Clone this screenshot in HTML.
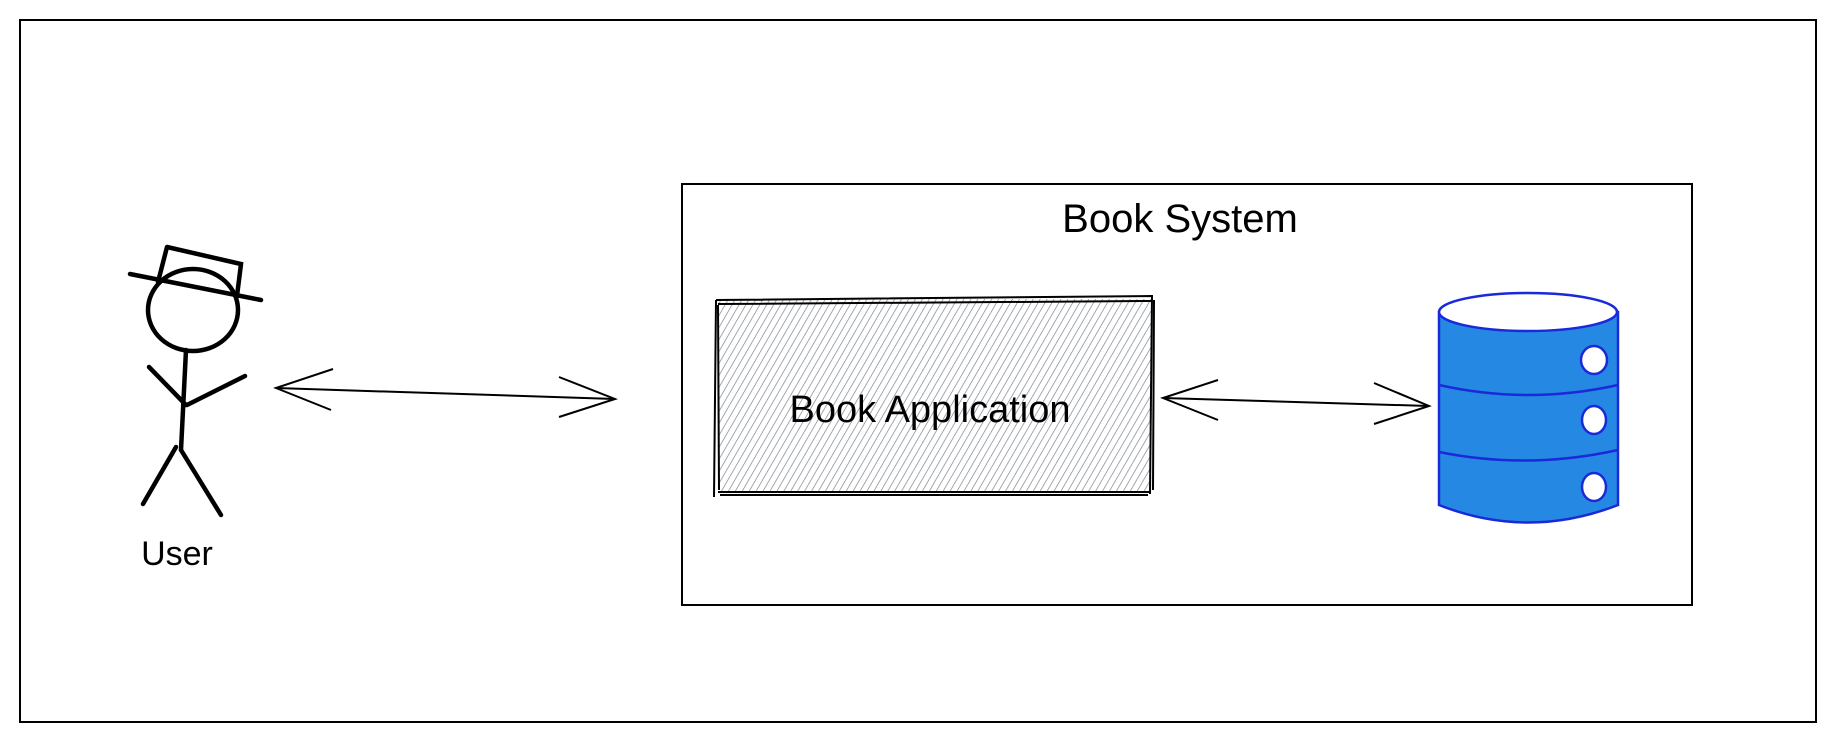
<!DOCTYPE html>
<html><head><meta charset="utf-8"><style>
html,body{margin:0;padding:0;background:#fff;}
svg{display:block;}
text{font-family:"Liberation Sans",sans-serif;fill:#000;}
</style></head><body>
<svg width="1836" height="742" viewBox="0 0 1836 742" xmlns="http://www.w3.org/2000/svg">
<defs>
<pattern id="h" width="6" height="6" patternUnits="userSpaceOnUse" patternTransform="rotate(30)">
<line x1="0" y1="0" x2="0" y2="6" stroke="#7d848c" stroke-width="1.4"/>
</pattern>
</defs>
<rect x="20" y="20" width="1796" height="702" fill="none" stroke="#000" stroke-width="2"/>
<rect x="682" y="184" width="1010" height="421" fill="none" stroke="#000" stroke-width="2"/>
<text x="1180" y="232" font-size="40" text-anchor="middle">Book System</text>

<rect x="718" y="299" width="433" height="193" fill="url(#h)"/>
<path d="M716 300 L1151 296 M718 304 L1152 301 M1152 295 L1150 494 M1154 300 L1153 490 M1150 492 L718 492 M1148 495 L720 495 M716 300 L714 497 M718 305 L719 490" stroke="#000" stroke-width="2" fill="none"/>
<text x="930" y="422" font-size="38" text-anchor="middle">Book Application</text>

<g stroke="#000" stroke-width="4.5" fill="none" stroke-linecap="round">
<ellipse cx="193" cy="310" rx="45" ry="41" fill="#fff"/>
<path d="M130 274 L261 300"/>
<path d="M167 247 L241 264 L237 296 M167 247 L158 282"/>
<path d="M186 350 L181 450"/>
<path d="M149 367 L186 405 M187 405 L245 376"/>
<path d="M176 447 L143 504 M181 450 L221 515"/>
</g>
<text x="177" y="565" font-size="34" text-anchor="middle">User</text>

<g stroke="#000" stroke-width="2" fill="none">
<path d="M276 388 L615 399"/>
<path d="M333 369 L276 388 L331 410"/>
<path d="M559 377 L615 399 L559 417"/>
<path d="M1163 398 L1429 406"/>
<path d="M1218 380 L1163 398 L1218 420"/>
<path d="M1374 383 L1429 406 L1374 424"/>
</g>

<g stroke="#1a2ad8" stroke-width="2.5">
<path d="M1439 312 L1439 505 Q1528 540 1618 505 L1618 312 Z" fill="#2589e4"/>
<ellipse cx="1528" cy="312" rx="89" ry="19" fill="#fff"/>
<path d="M1439 385 Q1528 405 1618 385" fill="none"/>
<path d="M1439 452 Q1528 470 1618 450" fill="none"/>
<ellipse cx="1594" cy="360" rx="13" ry="14" fill="#fff"/>
<ellipse cx="1594" cy="420" rx="12" ry="14" fill="#fff"/>
<ellipse cx="1594" cy="487" rx="12" ry="14" fill="#fff"/>
</g>
</svg>
</body></html>
